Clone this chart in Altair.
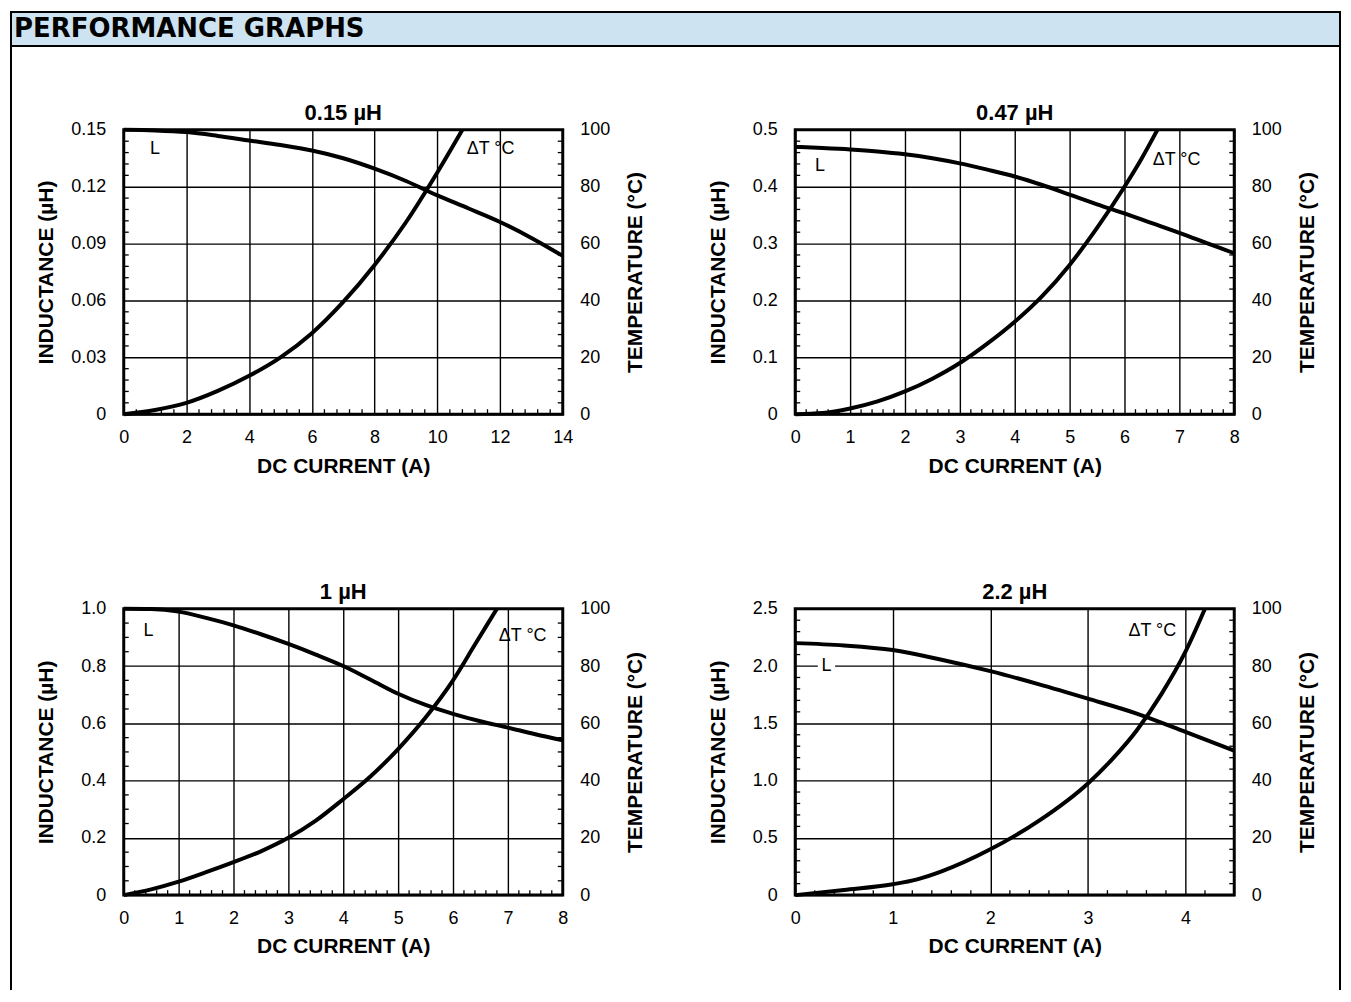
import altair as alt
import pandas as pd

# ---------------- data ----------------
titles = ["0.15 µH", "0.47 µH", "1 µH", "2.2 µH"]

p1_Lx = [0, 1, 2, 3, 4, 5, 6, 7, 8, 9, 10, 11, 12, 13, 14]
p1_L = [0.150, 0.1497, 0.1488, 0.1468, 0.1444, 0.1420, 0.1391, 0.1350, 0.1295,
        0.1230, 0.1154, 0.1085, 0.1014, 0.0930, 0.0835]
p1_Tx = [0, 1, 2, 3, 4, 5, 6, 7, 8, 9, 10, 10.8]
p1_T = [0, 1.5, 4.0, 8.2, 13.5, 20.0, 28.5, 39.5, 52.5, 67.5, 85.0, 100]

p2_Lx = [0, 0.5, 1, 1.5, 2, 2.5, 3, 3.5, 4, 4.5, 5, 5.5, 6, 6.5, 7, 7.5, 8]
p2_L = [0.470, 0.468, 0.4655, 0.462, 0.457, 0.450, 0.441, 0.430, 0.418, 0.403,
        0.386, 0.369, 0.353, 0.336, 0.319, 0.301, 0.283]
p2_Tx = [0, 0.5, 1, 1.5, 2, 2.5, 3, 3.5, 4, 4.5, 5, 5.5, 6, 6.3, 6.6]
p2_T = [0, 0.4, 2.0, 4.5, 8.0, 12.5, 18.0, 24.8, 32.5, 41.5, 52.5, 65.5, 80.0, 89.5, 100]

p3_Lx = [0, 0.5, 1, 1.5, 2, 2.5, 3, 3.5, 4, 4.5, 5, 5.5, 6, 6.5, 7, 7.5, 8]
p3_L = [1.0, 0.999, 0.99, 0.968, 0.942, 0.911, 0.877, 0.840, 0.800, 0.752,
        0.703, 0.664, 0.633, 0.607, 0.585, 0.562, 0.541]
p3_Tx = [0, 0.5, 1, 1.5, 2, 2.5, 3, 3.5, 4, 4.5, 5, 5.5, 6, 6.4, 6.8]
p3_T = [0, 2.0, 4.7, 8.0, 11.5, 15.3, 20.0, 26.0, 33.5, 41.5, 51.0, 62.0, 75.0, 87.5, 100]

p4_Lx = [0, 0.5, 1, 1.5, 2, 2.5, 3, 3.5, 4, 4.5]
p4_L = [2.20, 2.18, 2.14, 2.055, 1.955, 1.84, 1.715, 1.585, 1.425, 1.26]
p4_Tx = [0, 0.5, 1, 1.25, 1.5, 2, 2.5, 3, 3.25, 3.5, 3.75, 4, 4.2]
p4_T = [0, 1.8, 3.8, 5.5, 8.3, 16.0, 26.0, 39.0, 47.5, 57.5, 70.0, 85.0, 100]

L_x = [p1_Lx, p2_Lx, p3_Lx, p4_Lx]
L_v = [p1_L, p2_L, p3_L, p4_L]
T_x = [p1_Tx, p2_Tx, p3_Tx, p4_Tx]
T_v = [p1_T, p2_T, p3_T, p4_T]

# axes
x_domains = [[0, 14], [0, 8], [0, 8], [0, 4.5]]
x_ticks = [[0, 2, 4, 6, 8, 10, 12, 14], [0, 1, 2, 3, 4, 5, 6, 7, 8],
           [0, 1, 2, 3, 4, 5, 6, 7, 8], [0, 1, 2, 3, 4]]
L_ticks = [[0, 0.03, 0.06, 0.09, 0.12, 0.15], [0, 0.1, 0.2, 0.3, 0.4, 0.5],
           [0, 0.2, 0.4, 0.6, 0.8, 1.0], [0, 0.5, 1.0, 1.5, 2.0, 2.5]]
T_ticks = [0, 20, 40, 60, 80, 100]
x_minor_step = [0.4, 0.2, 0.2, 0.2]
L_minor_step = [0.006, 0.02, 0.05, 0.1]

# annotation labels (x, inductance-axis y)
ann_L = [(1.0, 0.140), (0.45, 0.437), (0.45, 0.923), (0.32, 2.0)]
ann_T = [(11.7, 0.140), (6.95, 0.447), (7.27, 0.906), (3.66, 2.31)]

FONT = "Liberation Sans"
W = 440
HEIGHTS = [285, 285, 287, 287]


def minor_values(top, step, majors):
    n = int(round(top / step))
    vals = [round(k * step, 6) for k in range(1, n)]
    return [v for v in vals if all(abs(v - m) > 1e-9 for m in majors)]


def make_panel(i, deco=False):
    H = HEIGHTS[i]
    top = L_ticks[i][-1]
    fmt = ".2f" if i == 0 else ".1f"

    def xs():
        return alt.Scale(domain=x_domains[i], nice=False, zero=False)

    def ls():
        return alt.Scale(domain=[0, top], nice=False, zero=False)

    def x_axis():
        return alt.Axis(orient="bottom", values=x_ticks[i], grid=True, gridColor="black",
                        gridWidth=1.4, gridOpacity=1, domain=False, ticks=False,
                        labelFlush=False, labelPadding=14, title="DC CURRENT (A)",
                        titleY=52, titleBaseline="middle", titleAlign="center",
                        titleX=W / 2)

    def X(field="x"):
        return alt.X(f"{field}:Q", scale=xs(), axis=x_axis())

    l_axis = alt.Axis(orient="left", values=L_ticks[i], grid=True, gridColor="black",
                      gridWidth=1.4, gridOpacity=1, domain=False, ticks=False,
                      labelFlush=False, labelPadding=18,
                      labelExpr=f"datum.value == 0 ? '0' : format(datum.value, '{fmt}')",
                      title="INDUCTANCE (µH)", titleX=-77, titleY=H / 2,
                      titleAngle=270, titleBaseline="middle", titleAlign="center")
    t_axis = alt.Axis(orient="right", values=T_ticks, grid=False, domain=False,
                      ticks=False, labelFlush=False, labelPadding=17,
                      title="TEMPERATURE (°C)", titleX=73, titleY=H / 2,
                      titleAngle=270, titleBaseline="middle", titleAlign="center")

    dfL = pd.DataFrame({"x": L_x[i], "v": L_v[i]})
    dfT = pd.DataFrame({"x": T_x[i], "t": T_v[i]})
    dfA = pd.DataFrame({"x": [ann_L[i][0], ann_T[i][0]],
                        "v": [ann_L[i][1], ann_T[i][1]],
                        "label": ["L", "ΔT °C"]})
    dfMX = pd.DataFrame({"x": minor_values(x_domains[i][1], x_minor_step[i], x_ticks[i])})
    dfMY = pd.DataFrame({"v": minor_values(top, L_minor_step[i], L_ticks[i])})
    one = pd.DataFrame({"k": [0]})

    layers = []
    if deco:
        layers.append(
            alt.Chart(one).mark_rect(fill="#cde3f1", stroke="black", strokeWidth=2).encode(
                x=alt.value(-113), x2=alt.value(1219), y=alt.value(-118), y2=alt.value(-84)))
        layers.append(
            alt.Chart(one).mark_text(font="DejaVu Sans", fontWeight="bold", fontSize=26,
                                     align="left", baseline="middle", color="black").encode(
                x=alt.value(-110), y=alt.value(-101), text=alt.value("PERFORMANCE GRAPHS")))
        layers.append(
            alt.Chart(one).mark_rule(color="black", strokeWidth=2).encode(
                x=alt.value(-113), y=alt.value(-118), y2=alt.value(862)))
        layers.append(
            alt.Chart(one).mark_rule(color="black", strokeWidth=2).encode(
                x=alt.value(1219), y=alt.value(-118), y2=alt.value(862)))

    # panel title
    layers.append(alt.Chart(one).mark_text(font=FONT, fontWeight="bold", fontSize=22,
                                           align="center", baseline="middle",
                                           color="black").encode(
        x=alt.value(W / 2), y=alt.value(-17), text=alt.value(titles[i])))

    layers.append(alt.Chart(dfMX).mark_rule(color="black", strokeWidth=1.3).encode(
        x=X(), y=alt.value(H), y2=alt.value(H - 5)))
    layers.append(alt.Chart(dfMY).mark_rule(color="black", strokeWidth=1.3).encode(
        y=alt.Y("v:Q", scale=ls(), axis=None), x=alt.value(0), x2=alt.value(5)))
    layers.append(alt.Chart(dfMY).mark_rule(color="black", strokeWidth=1.3).encode(
        y=alt.Y("v:Q", scale=ls(), axis=None), x=alt.value(W - 5), x2=alt.value(W)))
    if i == 3:
        layers.append(alt.Chart(dfA.iloc[[0]]).mark_square(color="white", opacity=1,
                                                           size=300).encode(
            x=X(), y=alt.Y("v:Q", scale=ls(), axis=None)))
    layers.append(alt.Chart(dfA).mark_text(font=FONT, fontSize=18, color="black",
                                           align="center", baseline="middle").encode(
        x=X(), y=alt.Y("v:Q", scale=ls(), axis=None), text="label:N"))
    layers.append(alt.Chart(dfL).mark_line(color="black", strokeWidth=4,
                                           interpolate="monotone").encode(
        x=X(), y=alt.Y("v:Q", scale=ls(), axis=l_axis)))
    layers.append(alt.Chart(dfT).mark_line(color="black", strokeWidth=4,
                                           interpolate="monotone").encode(
        x=X(),
        y=alt.Y("t:Q", scale=alt.Scale(domain=[0, 100], nice=False, zero=False),
                axis=t_axis)))

    return alt.layer(*layers).resolve_scale(y="independent").properties(width=W, height=H)


panels = [make_panel(0, deco=True), make_panel(1), make_panel(2), make_panel(3)]

chart = alt.concat(*panels, columns=2, spacing={"row": 195, "column": 233},
                   bounds="flush").properties(padding=0).configure_view(
    stroke="black", strokeWidth=3).configure_axis(
    labelFont=FONT, titleFont=FONT, labelColor="black", titleColor="black",
    labelFontSize=18, titleFontSize=21, titleFontWeight="bold", labelFlush=False)

chart.save("out.html", embed_options={"renderer": "svg", "actions": False})
